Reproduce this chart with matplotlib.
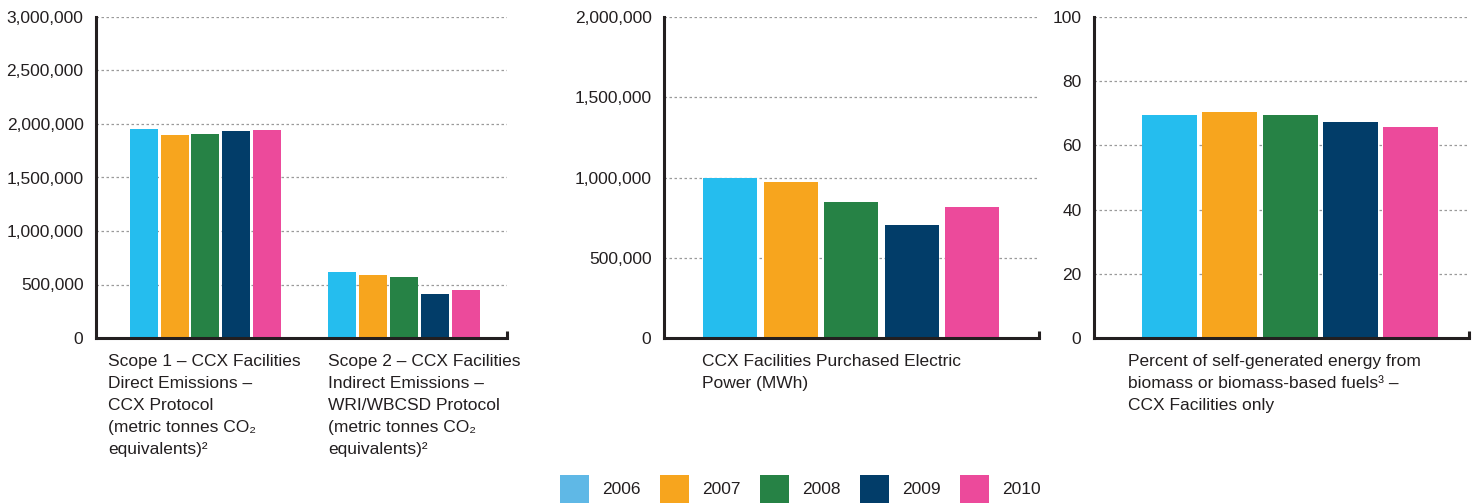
import matplotlib.pyplot as plt
from matplotlib.patches import Patch
from matplotlib.ticker import FuncFormatter

plt.rcParams['font.family'] = ['Liberation Sans', 'DejaVu Sans']

years = ['2006', '2007', '2008', '2009', '2010']
bar_colors = ['#25BDEE', '#F7A51E', '#268245', '#023D69', '#EC4A9B']
legend_colors = ['#5FB8E6', '#F7A51E', '#268245', '#023D69', '#EC4A9B']

# panel 1: scope 1 / scope 2 emissions (metric tonnes CO2e)
scope1 = [1953000, 1897000, 1907000, 1935000, 1944000]
scope2 = [617000, 589000, 570000, 411000, 449000]
scope_labels = ['Scope 1 \u2013 CCX Facilities\nDirect Emissions \u2013\nCCX Protocol\n(metric tonnes CO\u2082\nequivalents)\u00b2',
                'Scope 2 \u2013 CCX Facilities\nIndirect Emissions \u2013\nWRI/WBCSD Protocol\n(metric tonnes CO\u2082\nequivalents)\u00b2']

# panel 2: purchased electric power (MWh)
power = [1000000, 972000, 847000, 704000, 816000]
power_label = 'CCX Facilities Purchased Electric\nPower (MWh)'

# panel 3: percent self-generated energy from biomass
biomass = [69.5, 70.4, 69.5, 67.3, 65.7]
biomass_label = 'Percent of self-generated energy from\nbiomass or biomass-based fuels\u00b3 \u2013\nCCX Facilities only'

txt = '#231F20'
fs = 12.5
W, H = 1478, 503
fig = plt.figure(figsize=(14.78, 5.03), dpi=100)


def make_ax(x0, x1, ymax, step):
    ax = fig.add_axes([x0 / W, 1 - 338 / H, (x1 - x0) / W, 321 / H])
    ax.set_ylim(0, ymax)
    ax.set_yticks(range(0, ymax + 1, step))
    ax.yaxis.set_major_formatter(FuncFormatter(lambda v, p: f'{int(v):,}'))
    ax.tick_params(axis='y', length=0, pad=9, labelsize=fs, labelcolor=txt)
    ax.set_xticks([])
    for s in ['top', 'right']:
        ax.spines[s].set_visible(False)
    for s in ['left', 'bottom']:
        ax.spines[s].set_linewidth(2.2)
        ax.spines[s].set_color(txt)
    ax.yaxis.grid(True, linestyle=(0, (2, 2)), color='#9a9a9a', linewidth=0.9)
    ax.set_axisbelow(True)
    # small upturn at the right end of the baseline
    ax.plot([1, 1], [0, 0.022], transform=ax.transAxes, color=txt, lw=2.2,
            clip_on=False, solid_capstyle='butt')
    return ax


def label(ax, xfrac, s):
    ax.text(xfrac, -0.05, s, transform=ax.transAxes, ha='left', va='top',
            fontsize=fs, color=txt, linespacing=1.58)


# panel 1
ax1 = make_ax(96, 507, 3000000, 500000)
ax1.set_xlim(-0.551, 1.519)
w1, p1 = 0.141, 0.155
for i, (yr, c) in enumerate(zip(years, bar_colors)):
    off = (i - 2) * p1
    ax1.bar([0 + off, 1 + off], [scope1[i], scope2[i]], width=w1, color=c)
label(ax1, 0.029, scope_labels[0])
label(ax1, 0.564, scope_labels[1])

# panel 2
ax2 = make_ax(664, 1039, 2000000, 500000)
ax2.set_xlim(-0.499, 0.501)
for i, c in enumerate(bar_colors):
    ax2.bar((i - 2) * 0.1613, power[i], width=0.144, color=c)
label(ax2, 0.102, power_label)

# panel 3
ax3 = make_ax(1094, 1469, 100, 20)
ax3.set_xlim(-0.523, 0.477)
for i, c in enumerate(bar_colors):
    ax3.bar((i - 2) * 0.1608, biomass[i], width=0.147, color=c)
label(ax3, 0.091, biomass_label)

handles = [Patch(facecolor=c, edgecolor='none', label=y) for y, c in zip(years, legend_colors)]
fig.legend(handles=handles, loc='center left', bbox_to_anchor=(560 / W, 1 - 489 / H),
           ncol=5, frameon=False, fontsize=fs, handlelength=1.67, handleheight=2.1,
           handletextpad=0.75, columnspacing=1.12, borderpad=0, borderaxespad=0,
           labelcolor=txt)

fig.savefig('out.png', dpi=100)
